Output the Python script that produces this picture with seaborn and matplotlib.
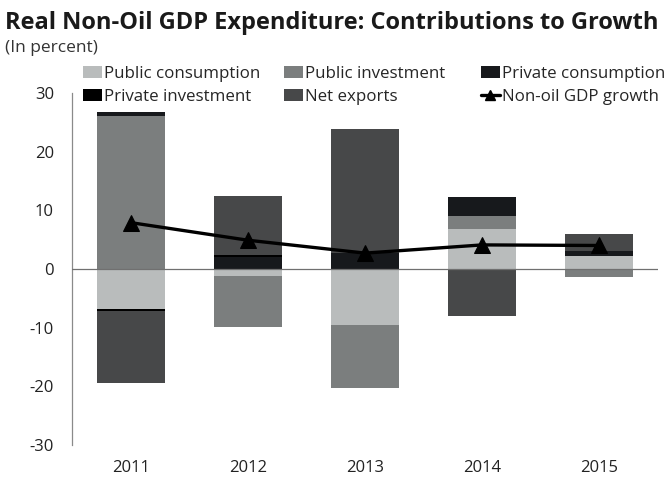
import matplotlib
matplotlib.use("Agg")
import matplotlib.pyplot as plt
import seaborn as sns
import numpy as np
from matplotlib.patches import Patch
from matplotlib.lines import Line2D

years = ["2011", "2012", "2013", "2014", "2015"]
public_consumption = [-6.8, -1.2, -9.5, 6.8, 2.2]
public_investment = [26.1, -8.7, -10.8, 2.2, -1.3]
private_consumption = [0.6, 2.0, 2.8, 3.2, 0.9]
private_investment = [-0.3, 0.4, 0.0, 0.0, 0.0]
net_exports = [-12.3, 10.1, 21.0, -8.0, 2.8]
gdp_growth = [7.9, 4.9, 2.7, 4.1, 4.0]

series_names = ["Public consumption", "Public investment", "Private consumption",
                "Private investment", "Net exports"]
series_vals = [public_consumption, public_investment, private_consumption,
               private_investment, net_exports]
colors = ["#b9bcbc", "#7b7e7e", "#17191c", "#000000", "#474849"]

sns.set_theme(style="white")
plt.rcParams["font.family"] = ["Open Sans", "DejaVu Sans"]
plt.rcParams["axes.unicode_minus"] = False

fig = plt.figure(figsize=(6.67, 4.79), dpi=100)
ax = fig.add_axes([0.108, 0.071, 0.8785, 0.735])

x = np.arange(len(years))
pos_base = np.zeros(len(years))
neg_base = np.zeros(len(years))
for name, vals, c in zip(series_names, series_vals, colors):
    v = np.array(vals, dtype=float)
    bottoms = np.where(v >= 0, pos_base, neg_base)
    ax.bar(x, v, width=0.58, bottom=bottoms, color=c, edgecolor="none", linewidth=0, zorder=2)
    pos_base = pos_base + np.where(v >= 0, v, 0)
    neg_base = neg_base + np.where(v < 0, v, 0)

ax.axhline(0, color="#707070", linewidth=0.9, zorder=3)
sns.lineplot(x=x, y=gdp_growth, ax=ax, color="black", linewidth=2.4, marker="^",
             markersize=11, markeredgecolor="black", zorder=4, legend=False)

ax.set_xlim(-0.5, len(years) - 0.5)
ax.set_ylim(-30, 30)
ax.set_yticks([-30, -20, -10, 0, 10, 20, 30])
ax.set_xticks(x)
ax.set_xticklabels(years)
ax.tick_params(axis="both", length=0, labelsize=12, colors="#222222")
ax.tick_params(axis="x", pad=11)
ax.tick_params(axis="y", pad=13)
for s in ["top", "right", "bottom"]:
    ax.spines[s].set_visible(False)
ax.spines["left"].set_color("#8a8a8a")
ax.spines["left"].set_linewidth(0.9)
ax.grid(False)

h = [Patch(facecolor=c, edgecolor="none") for c in colors]
hl = Line2D([0], [0], color="black", linewidth=2.4, marker="^", markersize=7)
columns = [
    ([h[0], h[3]], ["Public consumption", "Private investment"], 0.1244),
    ([h[1], h[4]], ["Public investment", "Net exports"], 0.4258),
    ([h[2], hl], ["Private consumption", "Non-oil GDP growth"], 0.7211),
]
for hs, ls, xa in columns:
    fig.legend(hs, ls, ncol=1, loc="upper left", bbox_to_anchor=(xa, 0.862),
               frameon=False, fontsize=12.2, handlelength=1.1, handleheight=0.7,
               handletextpad=0.15, labelspacing=0.42, borderaxespad=0, borderpad=0)

fig.text(0.007, 0.978, "Real Non-Oil GDP Expenditure: Contributions to Growth",
         fontsize=17, fontweight="bold", va="top", ha="left", color="#1a1a1a")
fig.text(0.007, 0.916, "(In percent)", fontsize=12.5, va="top", ha="left", color="#333333")

fig.savefig("out.png", dpi=100)
